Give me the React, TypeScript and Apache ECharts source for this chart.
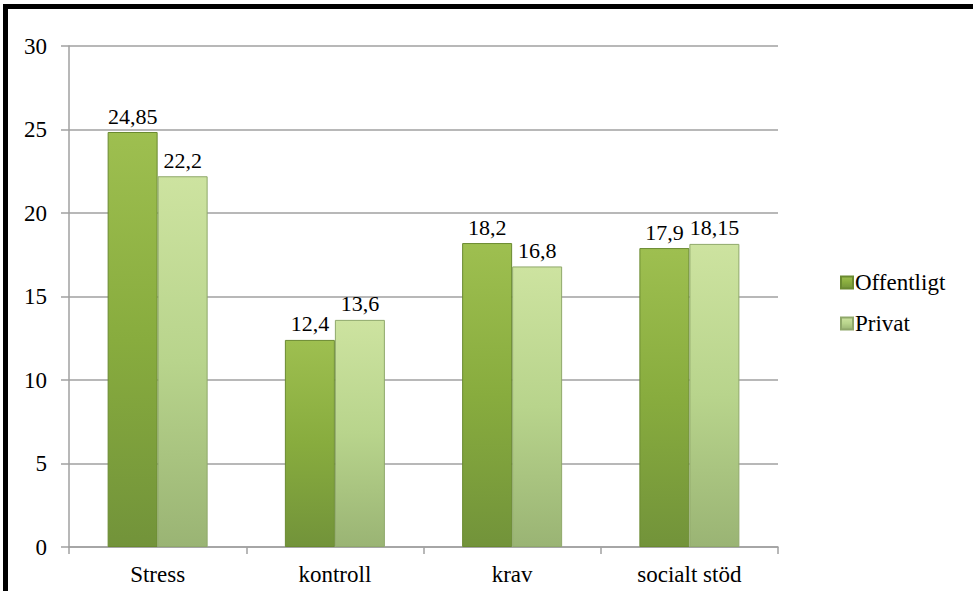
import React, { useEffect, useRef } from "react";
import * as echarts from "echarts";

const categories = ["Stress", "kontroll", "krav", "socialt stöd"];
const offentligt = [24.85, 12.4, 18.2, 17.9];
const privat = [22.2, 13.6, 16.8, 18.15];
const seriesNames = ["Offentligt", "Privat"];

const FONT = "Times New Roman, Liberation Serif, DejaVu Serif, serif";

const fmt = (v: number) => String(v).replace(".", ",");

export default function App() {
  const ref = useRef<HTMLDivElement>(null);
  useEffect(() => {
    if (!ref.current) return;
    const chart = echarts.init(ref.current, undefined, { renderer: "svg" });
    const darkGrad = new echarts.graphic.LinearGradient(0, 0, 0, 1, [
      { offset: 0, color: "#9ebf50" },
      { offset: 0.5, color: "#88ac3e" },
      { offset: 1, color: "#72933a" },
    ]);
    const lightGrad = new echarts.graphic.LinearGradient(0, 0, 0, 1, [
      { offset: 0, color: "#cde3a0" },
      { offset: 0.5, color: "#b8d48c" },
      { offset: 1, color: "#9ab474" },
    ]);
    const labelStyle = {
      show: true,
      position: "top",
      distance: 5,
      color: "#000",
      fontFamily: FONT,
      fontSize: 22,
      formatter: (p: any) => fmt(p.value),
    };
    chart.setOption({
      animation: false,
      backgroundColor: "#ffffff",
      textStyle: { fontFamily: FONT },
      grid: { left: 69, right: 196, top: 46, bottom: 44, containLabel: false },
      legend: {
        orient: "vertical",
        left: 835,
        top: 266,
        itemWidth: 12,
        itemHeight: 12,
        itemGap: 18,
        icon: "rect",
        data: seriesNames,
        textStyle: { fontFamily: FONT, fontSize: 23, color: "#000", padding: [0, 0, 0, -3] },
      },
      xAxis: {
        type: "category",
        data: categories,
        axisLine: { show: true, lineStyle: { color: "#a0a0a0", width: 1.5 } },
        axisTick: { show: true, length: 7, lineStyle: { color: "#a0a0a0", width: 1.5 } },
        axisLabel: { color: "#000", fontFamily: FONT, fontSize: 23, margin: 16 },
      },
      yAxis: {
        type: "value",
        min: 0,
        max: 30,
        interval: 5,
        axisLine: { show: true, lineStyle: { color: "#a0a0a0", width: 1.5 } },
        axisTick: { show: true, length: 8, lineStyle: { color: "#a0a0a0", width: 1.5 } },
        splitLine: { show: true, lineStyle: { color: "#a0a0a0", width: 1.5 } },
        axisLabel: { color: "#000", fontFamily: FONT, fontSize: 23, margin: 22 },
      },
      series: [
        {
          name: seriesNames[0],
          type: "bar",
          data: offentligt,
          barWidth: 50,
          barGap: "0%",
          itemStyle: { color: darkGrad, borderColor: "#6a8a30", borderWidth: 1 },
          label: labelStyle,
        },
        {
          name: seriesNames[1],
          type: "bar",
          data: privat,
          barWidth: 50,
          barGap: "0%",
          itemStyle: { color: lightGrad, borderColor: "#8fa86a", borderWidth: 1 },
          label: labelStyle,
        },
      ],
      graphic: [
        { type: "rect", shape: { x: 3, y: 4, width: 5, height: 600 }, style: { fill: "#000" } },
        { type: "rect", shape: { x: 3, y: 4, width: 970, height: 5 }, style: { fill: "#000" } },
      ],
    });
    return () => chart.dispose();
  }, []);
  return (
    <div
      ref={ref}
      style={{ position: "fixed", left: 0, top: 0, width: 974, height: 591, background: "#fff" }}
    />
  );
}
